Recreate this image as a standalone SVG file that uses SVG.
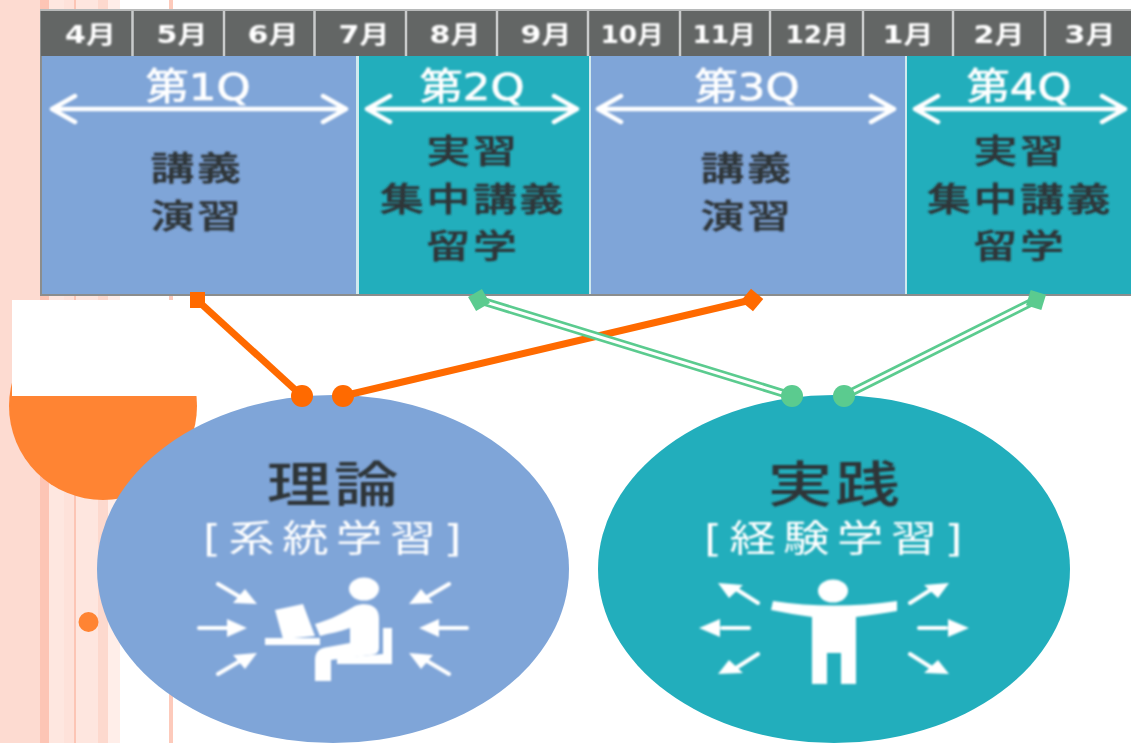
<svg xmlns="http://www.w3.org/2000/svg" width="1131" height="743" viewBox="0 0 1131 743">
<style>
.jp{font-family:"DejaVu Sans","Noto Sans CJK JP",sans-serif;text-anchor:middle}
.mon{font-size:24px;font-weight:700;fill:#fff}
.q{font-size:37px;fill:#fff;stroke:#fff;stroke-width:0.7px}
.b{font-size:33px;font-weight:500;fill:#2f3538;letter-spacing:2px;stroke:#2f3538;stroke-width:0.4px}
.t{font-size:49px;font-weight:500;fill:#2f3538;letter-spacing:2px}
.s{font-size:37px;fill:#fff;letter-spacing:6px}
.sep{stroke:#c9cbcb;stroke-width:2.5}
.arr{fill:none;stroke:#fff;stroke-width:4.5;stroke-linecap:round;stroke-linejoin:round}
.ic{fill:#fff}
.icl{fill:none;stroke:#fff;stroke-width:4;stroke-linecap:round}
.or{stroke:#ff6a00;stroke-width:7;fill:none}
.ofill{fill:#ff6a00}
.gr{stroke:#5bcb8f;stroke-width:8.500;fill:none}
.grw{stroke:#fff;stroke-width:3;fill:none}
.gfill{fill:#5bcb8f}
.blue{fill:#7fa5d8}
.teal{fill:#22aebc}
</style>
<defs>
<filter id="soft" x="-5%" y="-5%" width="110%" height="110%"><feGaussianBlur stdDeviation="0.8"/></filter>
</defs>
<rect width="1131" height="743" fill="#fff"/>
<g id="background">
<rect x="0" y="0" width="40" height="743" fill="#fddbd1"/>
<rect x="40" y="0" width="9" height="743" fill="#fdc5b5"/>
<rect x="49" y="0" width="15" height="743" fill="#fee7e0"/>
<rect x="64" y="0" width="10" height="743" fill="#fee2da"/>
<rect x="74" y="0" width="2" height="743" fill="#fcc5b5"/>
<rect x="76" y="0" width="22" height="743" fill="#fee6df"/>
<rect x="98" y="0" width="10" height="743" fill="#fdd9ce"/>
<rect x="108" y="0" width="12" height="743" fill="#ffeee9"/>
<rect x="169" y="0" width="4" height="743" fill="#fdcabb"/>
<circle cx="103" cy="406" r="94" fill="#ff8433"/>
<rect x="12" y="300" width="185" height="96" fill="#fff"/>
<circle cx="88.500" cy="622" r="10" fill="#ff8433"/>
</g>
<g id="table">
<rect x="40" y="9" width="1091" height="287" fill="#8b8d8d"/>
<rect x="40" y="9" width="1091" height="2" fill="#b8baba"/>
<rect x="41" y="11" width="1090" height="45" fill="#636665"/>
<path class="sep" d="M132.500 11V56M224 11V56M314.500 11V56M406 11V56M497 11V56M588 11V56M680 11V56M770 11V56M863 11V56M953 11V56M1045 11V56"/>
<g filter="url(#soft)">
<text class="jp mon" transform="translate(90.500 43) scale(1.25 1)">4月</text>
<text class="jp mon" transform="translate(182 43) scale(1.25 1)">5月</text>
<text class="jp mon" transform="translate(273 43) scale(1.25 1)">6月</text>
<text class="jp mon" transform="translate(364 43) scale(1.25 1)">7月</text>
<text class="jp mon" transform="translate(455 43) scale(1.25 1)">8月</text>
<text class="jp mon" transform="translate(546 43) scale(1.25 1)">9月</text>
<text class="jp mon" transform="translate(632 43) scale(1.1 1)">10月</text>
<text class="jp mon" transform="translate(724 43) scale(1.1 1)">11月</text>
<text class="jp mon" transform="translate(817 43) scale(1.1 1)">12月</text>
<text class="jp mon" transform="translate(908 43) scale(1.25 1)">1月</text>
<text class="jp mon" transform="translate(999 43) scale(1.25 1)">2月</text>
<text class="jp mon" transform="translate(1090 43) scale(1.25 1)">3月</text>
</g>
</g>
<g id="q1">
<rect class="blue" x="42" y="56" width="314" height="238"/>
<g filter="url(#soft)">
<text class="jp q" transform="translate(198 100) scale(1.17 1)">第1Q</text>
<path class="arr" d="M52 109H346M75 96L52 109L75 122M323 96L346 109L323 122"/>
<text class="jp b" transform="translate(197 180) scale(1.33 1)">講義</text>
<text class="jp b" transform="translate(197 228) scale(1.33 1)">演習</text>
</g>
</g>
<g id="q2">
<rect x="356" y="56" width="3" height="238" fill="#cfe9ee"/>
<rect class="teal" x="359" y="56" width="230" height="238"/>
<g filter="url(#soft)">
<text class="jp q" transform="translate(472 100) scale(1.17 1)">第2Q</text>
<path class="arr" d="M367 109H577M390 96L367 109L390 122M554 96L577 109L554 122"/>
<text class="jp b" transform="translate(473 163) scale(1.33 1)">実習</text>
<text class="jp b" transform="translate(473 211) scale(1.33 1)">集中講義</text>
<text class="jp b" transform="translate(473 258) scale(1.33 1)">留学</text>
</g>
</g>
<g id="q3">
<rect x="589" y="56" width="2" height="238" fill="#cfe9ee"/>
<rect class="blue" x="591" y="56" width="314" height="238"/>
<g filter="url(#soft)">
<text class="jp q" transform="translate(747 100) scale(1.17 1)">第3Q</text>
<path class="arr" d="M598 109H894M621 96L598 109L621 122M871 96L894 109L871 122"/>
<text class="jp b" transform="translate(747 180) scale(1.33 1)">講義</text>
<text class="jp b" transform="translate(747 228) scale(1.33 1)">演習</text>
</g>
</g>
<g id="q4">
<rect x="905" y="56" width="2" height="238" fill="#cfe9ee"/>
<rect class="teal" x="907" y="56" width="224" height="238"/>
<g filter="url(#soft)">
<text class="jp q" transform="translate(1019 100) scale(1.17 1)">第4Q</text>
<path class="arr" d="M915 109H1125M938 96L915 109L938 122M1102 96L1125 109L1102 122"/>
<text class="jp b" transform="translate(1020 163) scale(1.33 1)">実習</text>
<text class="jp b" transform="translate(1020 211) scale(1.33 1)">集中講義</text>
<text class="jp b" transform="translate(1020 258) scale(1.33 1)">留学</text>
</g>
</g>
<g id="theory">
<ellipse class="blue" cx="333" cy="569" rx="236" ry="174"/>
<g filter="url(#soft)">
<text class="jp t" transform="translate(334 502) scale(1.32 1)">理論</text>
<text class="jp s" transform="translate(336 552) scale(1.25 1)">[系統学習]</text>
<g id="theory-icon">
<ellipse class="ic" cx="364" cy="589" rx="15" ry="11.500"/>
<path class="ic" d="M275 610L303 604L315 636L283 639Z"/>
<path class="ic" d="M315 624C330 620 345 612 355 606C365 602 379 604 379 618L379 648Q379 655 370 655L331 660L331 681L315 681L315 660Q315 648 328 647L350 643L350 628C340 632 330 633 320 636Z"/>
<path class="ic" d="M265 638H320V645H265ZM337 658L383 654L383 628H392V664H337Z"/>
<path class="icl" d="M218 584L240 597M199 628H228M218 674L240 661M449 584L427 597M467 628H438M449 674L427 661"/>
<path class="ic" d="M257 604L233 603L245 589ZM247 628L227 619V637ZM257 653L233 655L245 669ZM409 604L433 603L421 589ZM419 628L439 619V637ZM409 653L433 655L421 669Z"/>
</g>
</g>
</g>
<g id="practice">
<ellipse class="teal" cx="834" cy="569" rx="236" ry="174"/>
<g filter="url(#soft)">
<text class="jp t" transform="translate(835 502) scale(1.32 1)">実践</text>
<text class="jp s" transform="translate(837 552) scale(1.25 1)">[経験学習]</text>
<g id="practice-icon">
<ellipse class="ic" cx="833" cy="591" rx="15" ry="11.500"/>
<path class="ic" d="M773 601Q833 610 897 601L897 611Q880 614 856 617V684H841V653H827V684H812V617Q790 614 771 610Z"/>
<path class="icl" d="M758 603L736 589M749 628H722M758 654L736 668M910 603L932 589M919 628H946M910 654L932 668"/>
<path class="ic" d="M718 583L743 585L729 598ZM699 628L720 619V637ZM718 674L743 673L729 660ZM949 583L924 585L938 598ZM969 628L948 619V637ZM949 674L924 673L938 660Z"/>
</g>
</g>
</g>
<g id="connectors">
<path class="or" d="M197 300L302 396"/>
<rect class="ofill" x="190" y="292" width="15" height="16"/>
<circle class="ofill" cx="302" cy="396" r="11"/>
<path class="or" d="M343 396L751 300"/>
<rect class="ofill" x="744" y="292" width="16" height="16" transform="rotate(40 752 300)"/>
<circle class="ofill" cx="343" cy="396" r="11"/>
<path class="gr" d="M479 300L792 396"/><path class="grw" d="M479 300L792 396"/>
<rect class="gfill" x="471" y="292" width="16" height="16" transform="rotate(-30 479 300)"/>
<circle class="gfill" cx="792" cy="396" r="11"/>
<path class="gr" d="M1036 300L844 396"/><path class="grw" d="M1036 300L844 396"/>
<rect class="gfill" x="1028" y="292" width="16" height="16" transform="rotate(17 1036 300)"/>
<circle class="gfill" cx="844" cy="396" r="11"/>
</g>
</svg>
